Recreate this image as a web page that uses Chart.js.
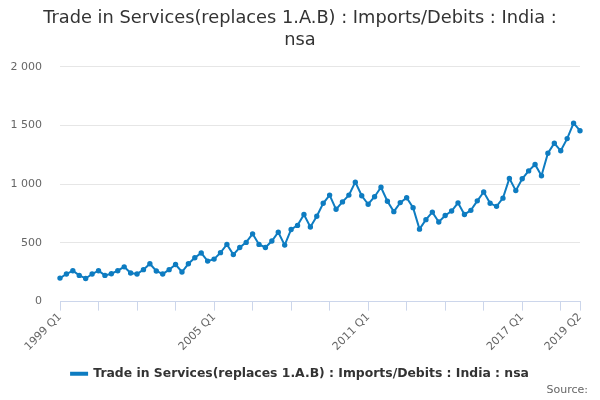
<!DOCTYPE html>
<html>
<head>
<meta charset="utf-8">
<script src="https://cdn.jsdelivr.net/npm/chart.js@4"></script>
<style>
  html, body { margin: 0; padding: 0; background: #fff; }
  #wrap { width: 600px; height: 400px; }
</style>
</head>
<body>
<div id="wrap"><canvas id="chart" width="600" height="400"></canvas></div>
<script>
// Quarter labels, 1999 Q1 .. 2019 Q2
let quarters = [];
for (let y = 1999; y <= 2019; y++) {
  for (let q = 1; q <= 4; q++) {
    if (y === 2019 && q > 2) break;
    quarters.push(y + " Q" + q);
  }
}

// Imports/Debits values
let imports = [
  200, 235, 263, 223, 197, 235, 263, 223, 237, 263,
  296, 243, 235, 272, 322, 261, 235, 272, 316, 252,
  322, 374, 414, 345, 362, 417, 487, 400, 461, 504,
  577, 487, 461, 516, 591, 481, 614, 649, 742, 635,
  727, 837, 907, 786, 849, 907, 1017, 901, 829, 893,
  974, 855, 766, 843, 884, 800, 617, 698, 762, 678,
  733, 771, 841, 742, 777, 858, 933, 837, 811, 881,
  1049, 945, 1046, 1113, 1168, 1072, 1263, 1348, 1284, 1388,
  1519, 1455
];

let yTicks = [0, 500, 1000, 1500, 2000];
let labeledQuarters = ["1999 Q1", "2005 Q1", "2011 Q1", "2017 Q1", "2019 Q2"];

let seriesName = "Trade in Services(replaces 1.A.B) : Imports/Debits : India : nsa";
let lineColor = "#0e7cc1";
let font = "'DejaVu Sans', sans-serif";

// "Source:" text bottom right
const sourcePlugin = {
  id: "source",
  afterDraw(chart) {
    let ctx = chart.ctx;
    ctx.save();
    ctx.font = "11px " + font;
    ctx.fillStyle = "#666666";
    ctx.textAlign = "right";
    ctx.textBaseline = "middle";
    ctx.fillText("Source:", 588, 390);
    ctx.restore();
  }
};

let chart = new Chart(document.getElementById("chart"), {
  type: "line",
  data: {
    labels: quarters,
    datasets: [{
      label: seriesName,
      data: imports,
      borderColor: lineColor,
      backgroundColor: lineColor,
      borderWidth: 2,
      pointRadius: 1.7,
      pointHoverRadius: 3,
      tension: 0
    }]
  },
  options: {
    responsive: false,
    animation: false,
    devicePixelRatio: 1,
    layout: { padding: { left: 0, right: 0, bottom: 10, top: 0 } },
    plugins: {
      title: {
        display: true,
        text: ["Trade in Services(replaces 1.A.B) : Imports/Debits : India :", "nsa"],
        color: "#333333",
        font: { family: font, size: 17.8, weight: "normal", lineHeight: 1.2 },
        padding: { top: 8, bottom: 16 }
      },
      legend: {
        position: "bottom",
        labels: {
          color: "#333333",
          font: { family: font, size: 12.4, weight: "bold" },
          boxWidth: 16,
          boxHeight: 2,
          padding: 10
        }
      },
      tooltip: { enabled: false }
    },
    scales: {
      x: {
        offset: false,
        afterFit(scale) { scale.height = 56; },
        border: { color: "#ccd6eb", width: 1 },
        grid: {
          drawOnChartArea: false,
          drawTicks: true,
          tickLength: 9,
          color: ctx => (ctx.index % 6 === 0 || ctx.index === quarters.length - 1) ? "#ccd6eb" : "rgba(0,0,0,0)"
        },
        ticks: {
          autoSkip: false,
          minRotation: 45,
          maxRotation: 45,
          padding: 0,
          color: "#666666",
          font: { family: font, size: 11 },
          callback: function (value, index) {
            let label = quarters[index];
            return labeledQuarters.includes(label) ? label : "";
          }
        }
      },
      y: {
        min: yTicks[0],
        max: yTicks[yTicks.length - 1],
        afterFit(scale) { scale.width = 60; },
        afterBuildTicks(scale) { scale.ticks = yTicks.map(v => ({ value: v })); },
        border: { display: false },
        grid: { color: "#e6e6e6", drawTicks: false },
        ticks: {
          padding: 18,
          color: "#666666",
          font: { family: font, size: 11 },
          callback: v => v.toString().replace(/\B(?=(\d{3})+(?!\d))/g, " ")
        }
      },
      // empty right-hand spacer so the plot ends at the same place as the original
      spacer: {
        type: "linear",
        position: "right",
        afterFit(scale) { scale.width = 20; },
        border: { display: false },
        grid: { display: false },
        ticks: { display: false }
      }
    }
  },
  plugins: [sourcePlugin]
});
</script>
</body>
</html>
